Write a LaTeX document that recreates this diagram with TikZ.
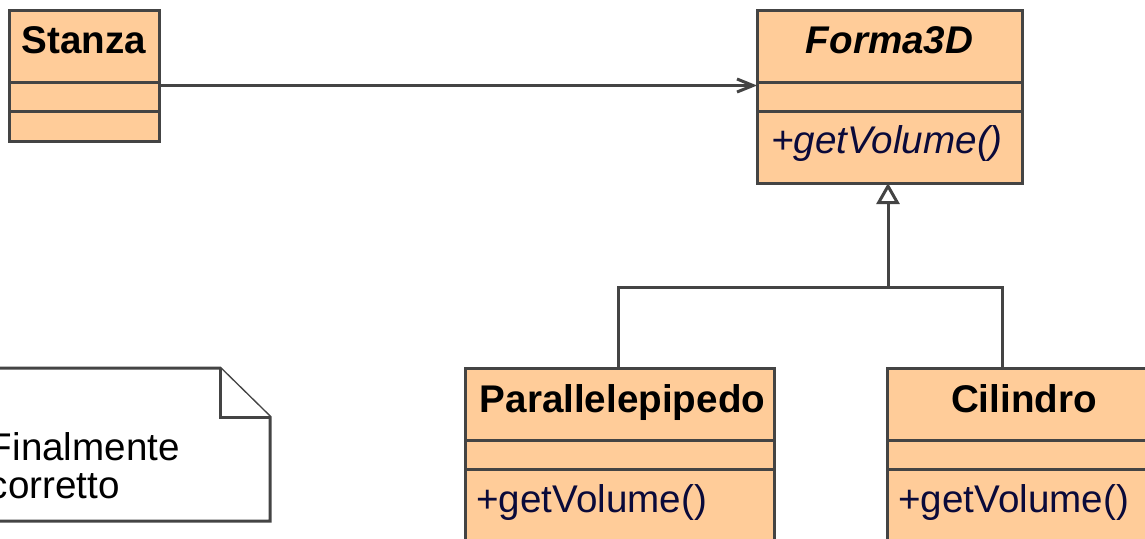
\documentclass[tikz,border=0pt]{standalone}
\usepackage{fontspec}
\setmainfont{Liberation Sans}
\usetikzlibrary{arrows.meta}
\definecolor{peach}{HTML}{FFCC99}
\definecolor{linec}{HTML}{444444}
\definecolor{opcol}{HTML}{0A0A3A}
\tikzset{
  cls/.style={draw=linec, fill=peach, line width=1.5pt, inner sep=0pt, outer sep=0pt},
  divider/.style={draw=linec, line width=1.5pt},
  clsname/.style={anchor=base, font=\fontsize{19.3}{23}\selectfont\bfseries, inner sep=0pt},
  absname/.style={clsname, font=\fontsize{19.3}{23}\selectfont\bfseries\itshape},
  oper/.style={anchor=base west, font=\fontsize{19.3}{23}\selectfont, text=opcol, inner sep=0pt},
  absoper/.style={oper, font=\fontsize{19.3}{23}\selectfont\itshape},
  notetext/.style={anchor=base west, font=\fontsize{19.3}{23}\selectfont, inner sep=0pt},
  assoc/.style={draw=linec, line width=1.5pt, -{Straight Barb[length=8pt,width=6.5pt]}},
  gen/.style={draw=linec, line width=1.5pt, -{Triangle[open, fill=white, length=10.5pt, width=11.5pt]}},
  genline/.style={draw=linec, line width=1.5pt},
  notebox/.style={draw=linec, fill=white, line width=1.5pt, line join=miter},
}
\begin{document}
\begin{tikzpicture}[x=0.5pt, y=-0.5pt]
  \clip (0,0) rectangle (1145,538);
  \fill[white] (0,0) rectangle (1145,538);

  % Classes
  \node[cls, minimum width=75pt, minimum height=65.25pt] (stanza) at (84,75.75) {};
  \node[cls, minimum width=132.5pt, minimum height=86.25pt] (forma) at (889.5,96.75) {};
  \node[cls, minimum width=154.5pt, minimum height=116pt] (para) at (619.5,484) {};
  \node[cls, minimum width=137pt, minimum height=116pt] (cil) at (1024,484) {};

  % Compartment separators
  \foreach \c/\a/\b in {stanza/82/111, forma/82/111, para/440/469, cil/440/469} {
    \draw[divider] (\c.west |- 0,\a) -- (\c.east |- 0,\a);
    \draw[divider] (\c.west |- 0,\b) -- (\c.east |- 0,\b);
  }

  % Class names
  \node[clsname] (stanzaname) at (stanza.center |- 0,53) {Stanza};
  \node[absname] (formaname) at (forma.center |- 0,53) {Forma3D};
  \node[clsname] (paraname) at ([xshift=1.5pt]para.center |- 0,412) {Parallelepipedo};
  \node[clsname] (cilname) at (cil.center |- 0,412) {Cilindro};

  % Operations
  \node[absoper] (formaop) at (771,153) {+getVolume()};
  \node[oper] (paraop) at (476,512) {+getVolume()};
  \node[oper] (cilop) at (898,512) {+getVolume()};

  % Association
  \draw[assoc] (stanza.east |- 0,85.5) -- (forma.west |- 0,85.5);

  % Generalization
  \coordinate (join) at (888,287);
  \coordinate (paratop) at (618,368);
  \coordinate (ciltop) at (1002,368);
  \draw[genline] (paratop) |- (join) -| (ciltop);
  \draw[gen] (join) -- (join |- forma.south);

  % Note
  \draw[notebox] (-30,368) -- (220,368) -- (270,417) -- (270,521) -- (-30,521) -- cycle;
  \draw[notebox] (220,368) -- (220,417) -- (270,417);
  \node[notetext] (note1) at (-11.5,460) {Finalmente};
  \node[notetext] (note2) at (-11.5,498) {corretto};
\end{tikzpicture}
\end{document}
